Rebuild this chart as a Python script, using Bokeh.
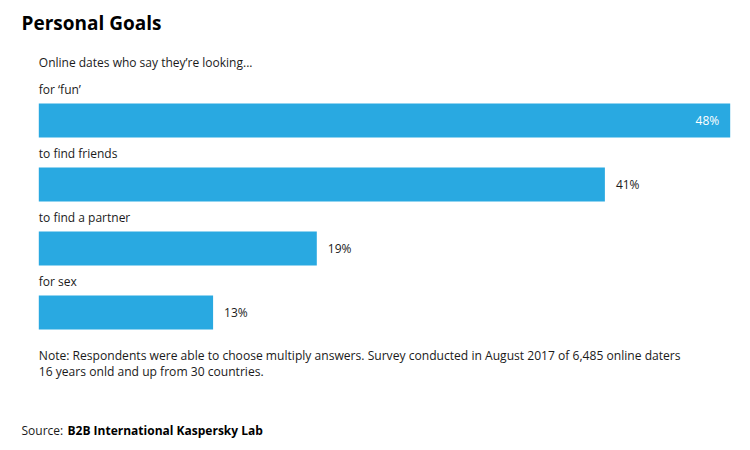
from bokeh.plotting import figure
from bokeh.models import Range1d, ColumnDataSource
from bokeh.core.properties import value
from bokeh.embed import file_html
from bokeh.resources import INLINE

# ---- data ----
categories = ["for \u2018fun\u2019", "to find friends", "to find a partner", "for sex"]
values = [48.0, 39.3, 19.3, 12.1]          # bar lengths as drawn (percent)
value_labels = ["48%", "41%", "19%", "13%"]  # labels as printed
title_text = "Personal Goals"
subtitle_text = "Online dates who say they\u2019re looking..."
note_lines = ["Note: Respondents were able to choose multiply answers. Survey conducted in August 2017 of 6,485 online daters",
              "16 years onld and up from 30 countries."]
source_label = "Source: "
source_name = "B2B International Kaspersky Lab"

W, H = 750, 450
left_px = 38.3
px_per_unit = (729.7 - left_px) / max(values)

p = figure(width=W, height=H, output_backend="svg", toolbar_location=None,
           x_range=Range1d(-left_px / px_per_unit, (W - left_px) / px_per_unit),
           y_range=Range1d(H, 0), min_border=0, outline_line_color=None)
p.axis.visible = False
p.grid.visible = False
p.background_fill_color = "white"
p.border_fill_color = "white"

FONT = value("Open Sans")
TXT = "#1a1a1a"
BLUE = "#29a9e1"

# rows
row0, step, bar_h = 120, 64, 34
ys = [row0 + i * step for i in range(len(categories))]
src = ColumnDataSource(dict(cat=categories, v=values, y=ys,
                            ylab=[y - bar_h / 2 - 14 for y in ys],
                            lab=value_labels))
p.hbar(y="y", left=0, right="v", height=bar_h, source=src, color=BLUE, line_color=None)

p.text(x=0, y="ylab", text="cat", source=src, text_font=FONT, text_font_size="12px",
       text_color=TXT, text_baseline="middle", text_align="left")

vmax = max(values)
inside = [v == vmax for v in values]
in_src = ColumnDataSource(dict(x=[v for v, b in zip(values, inside) if b],
                               y=[y for y, b in zip(ys, inside) if b],
                               t=[l for l, b in zip(value_labels, inside) if b]))
out_src = ColumnDataSource(dict(x=[v for v, b in zip(values, inside) if not b],
                                y=[y for y, b in zip(ys, inside) if not b],
                                t=[l for l, b in zip(value_labels, inside) if not b]))
p.text(x="x", y="y", text="t", source=in_src, x_offset=-11, text_font=FONT,
       text_font_size="12px", text_color="white", text_baseline="middle", text_align="right")
p.text(x="x", y="y", text="t", source=out_src, x_offset=11, text_font=FONT,
       text_font_size="12px", text_color=TXT, text_baseline="middle", text_align="left")

# title / subtitle / notes
x_at_px = lambda px: (px - left_px) / px_per_unit
p.text(x=[x_at_px(21)], y=[22], text=[title_text], text_font=FONT, text_font_size="19px",
       text_font_style="bold", text_color="black", text_baseline="middle")
p.text(x=[0], y=[62], text=[subtitle_text], text_font=FONT, text_font_size="12px",
       text_color=TXT, text_baseline="middle")
p.text(x=[0, 0], y=[355, 371], text=note_lines, text_font=FONT, text_font_size="12.1px",
       text_color=TXT, text_baseline="middle")
p.text(x=[x_at_px(21)], y=[430], text=[source_label], text_font=FONT, text_font_size="12px",
       text_color=TXT, text_baseline="middle")
p.text(x=[x_at_px(67)], y=[430], text=[source_name], text_font=FONT, text_font_size="12px",
       text_font_style="bold", text_color="black", text_baseline="middle")

open("out.html", "w").write(file_html(p, INLINE))
